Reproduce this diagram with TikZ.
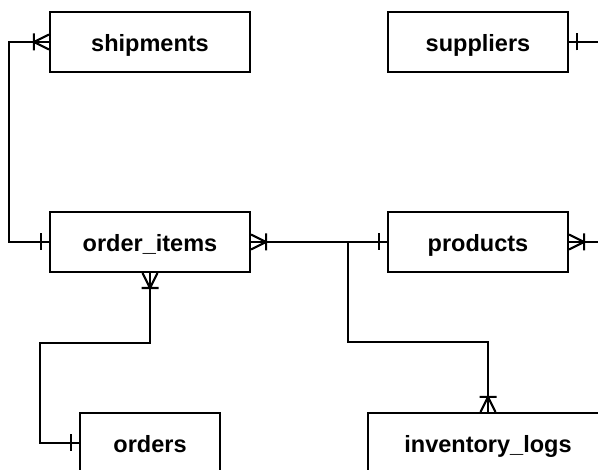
\documentclass[tikz,border=0pt]{standalone}
\usepackage{fontspec}
\setmainfont{Liberation Sans}
\begin{document}
\begin{tikzpicture}[x=1bp,y=1bp,line width=2.1bp,
	entity/.style={draw,fill=white,minimum height=60bp,inner sep=0pt,
		text height=23bp,text depth=4bp,
		font=\fontsize{23.6}{28}\selectfont\bfseries},
	one/.pic={\draw (8,-8.5) -- (8,8.5);},
	many/.pic={\draw (0,7.5) -- (15,0) -- (0,-7.5) (15,-8.5) -- (15,8.5);}]

\useasboundingbox (0,0) rectangle (598,470);
\clip (0,0) rectangle (598,470);

% The tables
\node[entity,minimum width=200bp] (shipments) at (150,428) {shipments};
\node[entity,minimum width=180bp] (suppliers) at (478,428) {suppliers};
\node[entity,minimum width=200bp] (order_items) at (150,228) {order\_items};
\node[entity,minimum width=180bp] (products) at (478,228) {products};
\node[entity,minimum width=140bp] (orders) at (150,27) {orders};
\node[entity,minimum width=240bp] (inventory_logs) at (488,27) {inventory\_logs};

% The relations
\draw (shipments.west) -- ++(-40,0) |- (order_items.west);
\pic[rotate=180] at (shipments.west) {many};
\pic[rotate=180] at (order_items.west) {one};

\coordinate (suppliers_out) at (610,428);
\draw (suppliers.east) -- (suppliers_out);
\pic at (suppliers.east) {one};

\coordinate (products_out) at (610,228);
\draw (products.east) -- (products_out);
\pic at (products.east) {many};

\draw (order_items.east) -- (products.west);
\pic at (order_items.east) {many};
\pic[rotate=180] at (products.west) {one};

\coordinate (split) at (348,228);
\draw (split) -- ++(0,-100) -| (inventory_logs.north);
\pic[rotate=90] at (inventory_logs.north) {many};

\draw (order_items.south) -- ++(0,-70) -- ++(-110,0) |- (orders.west);
\pic[rotate=-90] at (order_items.south) {many};
\pic[rotate=180] at (orders.west) {one};

\end{tikzpicture}
\end{document}
